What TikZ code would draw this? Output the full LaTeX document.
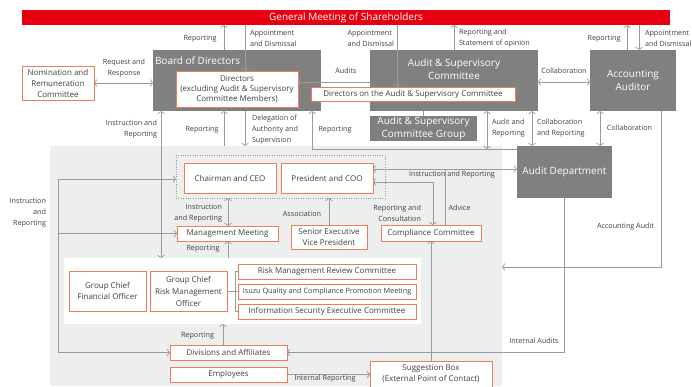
\documentclass[tikz,border=0pt]{standalone}
\usepackage{fontspec}
\setmainfont{Open Sans}
\usetikzlibrary{arrows.meta}
\definecolor{isuzured}{HTML}{E60012}
\definecolor{accent}{HTML}{EE7D5B}
\definecolor{boxgray}{HTML}{808080}
\definecolor{areagray}{HTML}{EDEEEE}
\definecolor{linegray}{HTML}{9A9A9A}
\definecolor{textgray}{HTML}{404040}

\begin{document}
\begin{tikzpicture}[x=1pt, y=-1pt, >={Straight Barb[length=2.5pt,width=7pt]},
  every node/.style={inner sep=0pt, outer sep=0pt, text=textgray},
  obox/.style={draw=accent, line width=0.9pt, fill=white, align=center, font=\fontsize{8}{11}\selectfont},
  gbox/.style={fill=boxgray, text=white, align=center, font=\fontsize{10}{13}\selectfont},
  lbl/.style={align=center, font=\fontsize{7.2}{11}\selectfont},
  conn/.style={draw=linegray, line width=0.7pt}]
\useasboundingbox (0,0) rectangle (692,386);
% shaded executive area
\node[fill=areagray, minimum width=452pt, minimum height=240pt] (area) at (276,266) {};
\node[fill=white, minimum width=357pt, minimum height=66pt] (riskarea) at (242.5,291) {};
\node[fill=isuzured, text=white, minimum width=648pt, minimum height=15pt, font=\fontsize{10}{12}\selectfont] (gm) at (346,17.5) {General Meeting of Shareholders};

% board side
\node[gbox, minimum width=168pt, minimum height=61pt] (board) at (237,80.5) {};
\node[gbox, fill=none, anchor=west] (boardlbl) at (155,61) {Board of Directors};
\node[obox, font=\fontsize{8}{10}\selectfont, minimum width=122pt, minimum height=36pt] (dirs) at (237,89) {Directors\\(excluding Audit \& Supervisory\\Committee Members)};
\node[obox, minimum width=72pt, minimum height=34pt] (nomrem) at (58,83) {Nomination and\\Remuneration\\Committee};

% audit side
\node[gbox, minimum width=168pt, minimum height=61pt] (asc) at (454,80.5) {};
\node[gbox, fill=none] (asclbl) at (454,69.5) {Audit \& Supervisory\\Committee};
\node[obox, minimum width=204pt, minimum height=14pt] (ascdirs) at (413,94) {Directors on the Audit \& Supervisory Committee};
\node[gbox, minimum width=107pt, minimum height=25pt] (ascgroup) at (423.5,128.5) {Audit \& Supervisory\\Committee Group};
\node[gbox, minimum width=86pt, minimum height=61pt] (acct) at (633,80.5) {Accounting\\Auditor};
\node[gbox, minimum width=95pt, minimum height=52pt] (auditdept) at (564.5,172) {Audit Department};

% executives
\node[draw=linegray, dotted, minimum width=209pt, minimum height=43pt] (top) at (280.5,176.5) {};
\node[obox, minimum width=92pt, minimum height=30pt] (ceo) at (230,178) {Chairman and CEO};
\node[obox, minimum width=92pt, minimum height=30pt] (coo) at (327,178) {President and COO};
\node[obox, minimum width=101pt, minimum height=15pt] (mgmt) at (227.5,233.5) {Management Meeting};
\node[obox, minimum width=76pt, minimum height=24pt] (sevp) at (329,237) {Senior Executive\\Vice President};
\node[obox, minimum width=100pt, minimum height=16pt] (comp) at (431,233) {Compliance Committee};
\node[obox, minimum width=77pt, minimum height=40pt] (gcfo) at (107.5,291) {Group Chief\\Financial Officer};
\node[obox, font=\fontsize{8}{12}\selectfont, minimum width=77pt, minimum height=40pt] (gcrmo) at (188.5,291) {Group Chief\\Risk Management\\Officer};
\node[obox, minimum width=178pt, minimum height=15pt] (rmrc) at (327,271.5) {Risk Management Review Committee};
\node[obox, font=\fontsize{7.3}{9}\selectfont, minimum width=178pt, minimum height=15pt] (iqcpm) at (327,291.5) {Isuzu Quality and Compliance Promotion Meeting};
\node[obox, minimum width=178pt, minimum height=15pt] (isec) at (327,311.5) {Information Security Executive Committee};
\node[obox, minimum width=117pt, minimum height=15pt] (div) at (228.5,352.5) {Divisions and Affiliates};
\node[obox, minimum width=117pt, minimum height=15pt] (emp) at (228.5,374.5) {Employees};
\node[obox, minimum width=122pt, minimum height=26pt] (sugg) at (431,374) {Suggestion Box\\(External Point of Contact)};

% turning points
\coordinate (rptturn) at (312,149);
\coordinate (bus) at (58,179);
\coordinate (rcturn) at (433,182);
\coordinate (advtop) at (445,169);
\coordinate (acctturn) at (661,267);
\coordinate (brk) at (235,291);

% connectors to the general meeting
\draw[conn,->] (board.north -| 224,0) -- (gm.south -| 224,0);
\draw[conn,->] (gm.south -| 245,0) -- (dirs.north -| 245,0);
\draw[conn,->] (gm.south -| 397,0) -- (ascdirs.north -| 397,0);
\draw[conn,->] (asc.north -| 454,0) -- (gm.south -| 454,0);
\draw[conn,->] (acct.north -| 627,0) -- (gm.south -| 627,0);
\draw[conn,->] (gm.south -| 639,0) -- (acct.north -| 639,0);
\draw[conn,<->] (nomrem.east) -- (board.west |- nomrem.east);
\draw[conn,->] (asc.west |- 0,82) -- (dirs.east |- 0,82);
\draw[conn,<->] (asc.east |- 0,82) -- (acct.west |- 0,82);
\draw[conn] (ascgroup.north) -- (asc.south -| ascgroup.north);

% audit lines
\draw[conn,<->] (asc.south -| 487,0) -- (rptturn -| 487,0);
\draw[conn,<->] (asc.south -| 532,0) -- (auditdept.north -| 532,0);
\draw[conn,<->] (acct.south -| 600,0) -- (auditdept.north -| 600,0);
\draw[conn,->] (acct.south -| acctturn) -- (acctturn) -- (area.east |- acctturn);
\draw[conn,->] (auditdept.west |- rptturn) -- (rptturn) -- (board.south -| rptturn);
\draw[conn,->] (auditdept.south) -- (auditdept.south |- div.east) -- (div.east);

% board to executives
\draw[conn,->] (board.south -| 245,0) -- (area.north -| 245,0);
\draw[conn,->] (area.north -| 224,0) -- (board.south -| 224,0);
\draw[conn,<->] (board.south -| 161,0) -- (riskarea.north -| 161,0);
\draw[conn,->] (bus |- div.west) -- (bus) -- (top.west |- bus);
\draw[conn,->] (bus |- mgmt.west) -- (mgmt.west);
\draw[conn,->] (bus |- div.west) -- (div.west);
\draw[conn,<->] (top.south -| 228,0) -- (mgmt.north -| 228,0);
\draw[conn,->] (sevp.north) -- (top.south -| sevp.north);
\draw[conn,->] (riskarea.north -| 228,0) -- (mgmt.south -| 228,0);
\draw[conn,<->] (coo.east |- advtop) -- (auditdept.west |- advtop);
\draw[conn,<->] (coo.east |- rcturn) -- (rcturn) -- (comp.north -| rcturn);
\draw[conn] (comp.north -| advtop) -- (advtop);
\draw[conn,->] (sugg.north) -- (comp.south);
\draw[conn,->] (div.north -| 223,0) -- (riskarea.south -| 223,0);
\draw[conn,->] (emp.east) -- (sugg.west |- emp.east);
\draw[conn] (gcrmo.east) -- (brk);
\draw[conn] (rmrc.west) -- (brk |- rmrc.west) -- (brk |- isec.west) -- (isec.west);
\draw[conn] (iqcpm.west) -- (brk |- iqcpm.west);

% labels
\node[lbl] (l1) at (200,39) {Reporting};
\node[lbl, anchor=west, align=left] (l2) at (250,38.5) {Appointment\\and Dismissal};
\node[lbl] (l3) at (124,68) {Request and\\Response};
\node[lbl] (l4) at (346,71) {Audits};
\node[lbl, anchor=east, align=left] (l5) at (394,38.5) {Appointment\\and Dismissal};
\node[lbl, anchor=west, align=left] (l6) at (459,38.5) {Reporting and\\Statement of opinion};
\node[lbl] (l7) at (604,39) {Reporting};
\node[lbl, anchor=west, align=left] (l8) at (645,38.5) {Appointment\\and Dismissal};
\node[lbl] (l9) at (564,71) {Collaboration};
\node[lbl, anchor=east, align=right] (l10) at (157,129.5) {Instruction and\\Reporting};
\node[lbl] (l11) at (202,129.5) {Reporting};
\node[lbl, anchor=west, align=left] (l12) at (252,129.5) {Delegation of\\Authority and\\Supervision};
\node[lbl] (l13) at (335,130) {Reporting};
\node[lbl, anchor=west, align=left] (l14) at (492,128.5) {Audit and\\Reporting};
\node[lbl, anchor=west, align=left] (l15) at (537,128.5) {Collaboration\\and Reporting};
\node[lbl] (l16) at (629.5,128) {Collaboration};
\node[lbl, anchor=east, align=right] (l17) at (46,213) {Instruction\\and\\Reporting};
\node[lbl, anchor=east, align=right] (l18) at (222,213.5) {Instruction\\and Reporting};
\node[lbl] (l19) at (302,214) {Association};
\node[lbl] (l20) at (203,249) {Reporting};
\node[lbl] (l21) at (452,175) {Instruction and Reporting};
\node[lbl, anchor=east, align=right] (l22) at (421,213) {Reporting and\\Consultation};
\node[lbl] (l23) at (459.5,208) {Advice};
\node[lbl] (l24) at (625.5,227) {Accounting Audit};
\node[lbl] (l25) at (534,341) {Internal Audits};
\node[lbl] (l26) at (197.5,336) {Reporting};
\node[lbl] (l27) at (325,379) {Internal Reporting};
\end{tikzpicture}
\end{document}
